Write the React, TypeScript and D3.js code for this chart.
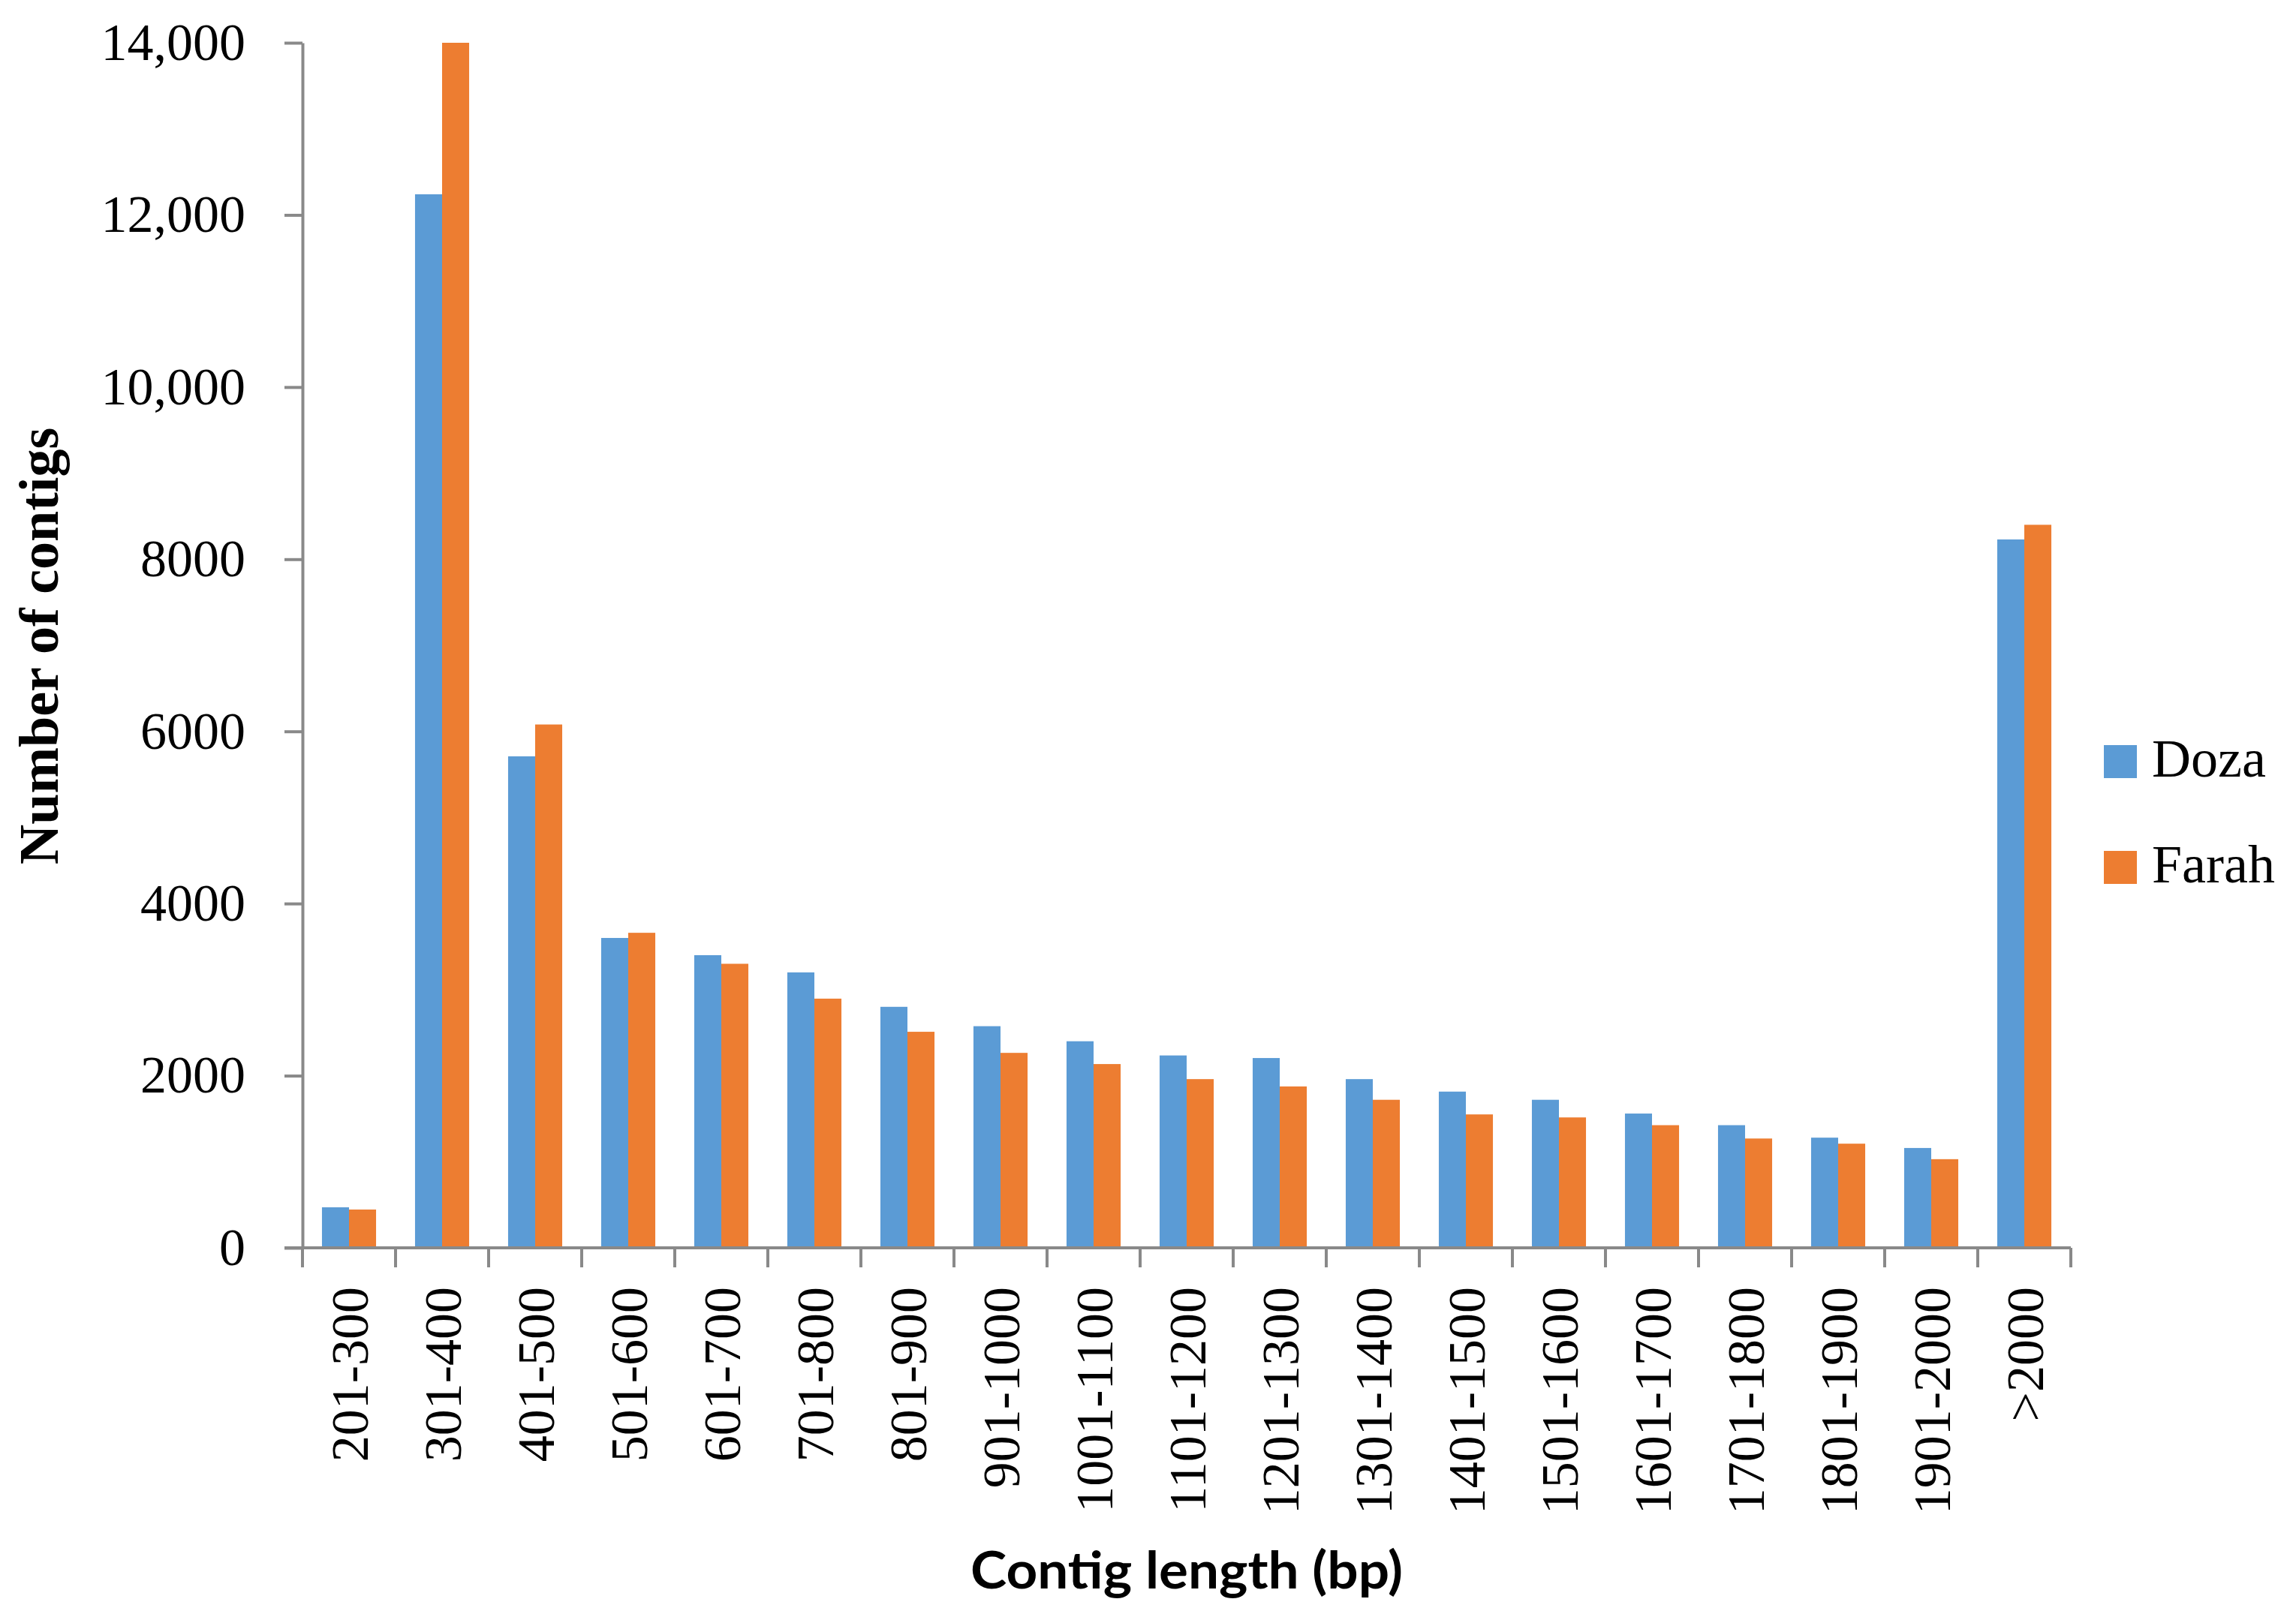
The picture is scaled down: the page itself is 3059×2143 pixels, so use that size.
import React, { useEffect, useRef } from 'react';
import * as d3 from 'd3';

// contig length bins
const categories = [
  '201-300', '301-400', '401-500', '501-600', '601-700', '701-800', '801-900',
  '901-1000', '1001-1100', '1101-1200', '1201-1300', '1301-1400', '1401-1500',
  '1501-1600', '1601-1700', '1701-1800', '1801-1900', '1901-2000', '>2000',
];

const doza = [471, 12240, 5710, 3600, 3400, 3200, 2800, 2575, 2400, 2235, 2205, 1960, 1815, 1720, 1560, 1425, 1280, 1160, 8230];
const farah = [445, 14000, 6080, 3660, 3300, 2895, 2510, 2265, 2135, 1960, 1875, 1720, 1550, 1515, 1425, 1270, 1210, 1030, 8400];

const seriesNames = ['Doza', 'Farah'];
const seriesColors = ['#5B9BD5', '#ED7D31'];
const yTicks = [0, 2000, 4000, 6000, 8000, 10000, 12000, 14000];

const W = 3059;
const H = 2143;
const axisColor = '#898989';

const App: React.FC = () => {
  const svgRef = useRef<SVGSVGElement | null>(null);

  useEffect(() => {
    const svg = d3.select(svgRef.current);
    svg.selectAll('*').remove();

    const margin = { top: 57, right: 300, bottom: 480, left: 403 };
    const x0 = margin.left;
    const x1 = W - margin.right;
    const yBase = H - margin.bottom;

    const x = d3.scaleBand<string>().domain(categories).range([x0, x1]).padding(0);
    const xSub = d3.scaleBand<string>().domain(seriesNames).range([0, x.bandwidth()]).paddingInner(0).paddingOuter(0.72);
    const y = d3.scaleLinear().domain([0, 14000]).range([yBase, margin.top]);

    const rows = categories.map((c, i) => ({ cat: c, values: [doza[i], farah[i]] }));

    // bars
    const groups = svg.append('g')
      .selectAll('g')
      .data(rows)
      .join('g')
      .attr('transform', d => `translate(${x(d.cat)},0)`);

    groups.selectAll('rect')
      .data(d => d.values.map((v, k) => ({ name: seriesNames[k], v, k })))
      .join('rect')
      .attr('x', d => xSub(d.name) as number)
      .attr('width', xSub.bandwidth())
      .attr('y', d => y(d.v))
      .attr('height', d => yBase - y(d.v))
      .attr('fill', d => seriesColors[d.k]);

    // y axis
    const yAxis = svg.append('g')
      .attr('transform', `translate(${x0},0)`)
      .call(
        d3.axisLeft(y)
          .tickValues(yTicks)
          .tickSize(24)
          .tickSizeOuter(0)
          .tickPadding(52)
          .tickFormat(d => (+d >= 10000 ? d3.format(',')(+d) : String(d)))
      );
    yAxis.select('.domain').attr('stroke', axisColor).attr('stroke-width', 4);
    yAxis.selectAll('.tick line').attr('stroke', axisColor).attr('stroke-width', 4);
    yAxis.selectAll('.tick text')
      .attr('font-family', '"Liberation Serif", "Times New Roman", serif')
      .attr('font-size', 70)
      .attr('fill', '#000');

    // x axis
    const xAxis = svg.append('g')
      .attr('transform', `translate(0,${yBase})`)
      .call(d3.axisBottom(x).tickSize(0).tickSizeOuter(0));
    xAxis.select('.domain').remove();
    xAxis.append('line')
      .attr('x1', x0 - 24).attr('x2', x1)
      .attr('stroke', axisColor).attr('stroke-width', 4);
    xAxis.selectAll('.bound')
      .data(d3.range(categories.length + 1))
      .join('line')
      .attr('class', 'bound')
      .attr('x1', i => x0 + i * x.step())
      .attr('x2', i => x0 + i * x.step())
      .attr('y1', 0)
      .attr('y2', 26)
      .attr('stroke', axisColor)
      .attr('stroke-width', 4);
    xAxis.selectAll('.tick text')
      .attr('transform', 'rotate(-90)')
      .attr('x', -52)
      .attr('y', 0)
      .attr('dy', '0.35em')
      .attr('text-anchor', 'end')
      .attr('font-family', '"Liberation Serif", "Times New Roman", serif')
      .attr('font-size', 70)
      .attr('fill', '#000');

    // axis titles
    svg.append('text')
      .attr('transform', `translate(${(x0 + x1) / 2 + 0},2117)`)
      .attr('text-anchor', 'middle')
      .attr('font-family', 'Lato, "Open Sans", sans-serif')
      .attr('font-weight', 'bold')
      .attr('font-size', 68)
      .attr('textLength', 576)
      .attr('lengthAdjust', 'spacingAndGlyphs')
      .text('Contig length (bp)');

    svg.append('text')
      .attr('transform', `translate(77,861) rotate(-90)`)
      .attr('text-anchor', 'middle')
      .attr('font-family', '"Liberation Serif", "Times New Roman", serif')
      .attr('font-weight', 'bold')
      .attr('font-size', 74)
      .text('Number of contigs');

    // legend
    const legend = svg.append('g').attr('transform', 'translate(2803,993)');
    seriesNames.forEach((name, k) => {
      const g = legend.append('g').attr('transform', `translate(0,${k * 141})`);
      g.append('rect').attr('width', 44).attr('height', 44).attr('fill', seriesColors[k]);
      g.append('text')
        .attr('x', 64)
        .attr('y', 42)
        .attr('font-family', '"Liberation Serif", "Times New Roman", serif')
        .attr('font-size', 72)
        .attr('fill', '#000')
        .text(name);
    });
  }, []);

  return (
    <svg
      ref={svgRef}
      width={W}
      height={H}
      style={{ position: 'absolute', left: 0, top: 0, background: '#fff' }}
    />
  );
};

export default App;
